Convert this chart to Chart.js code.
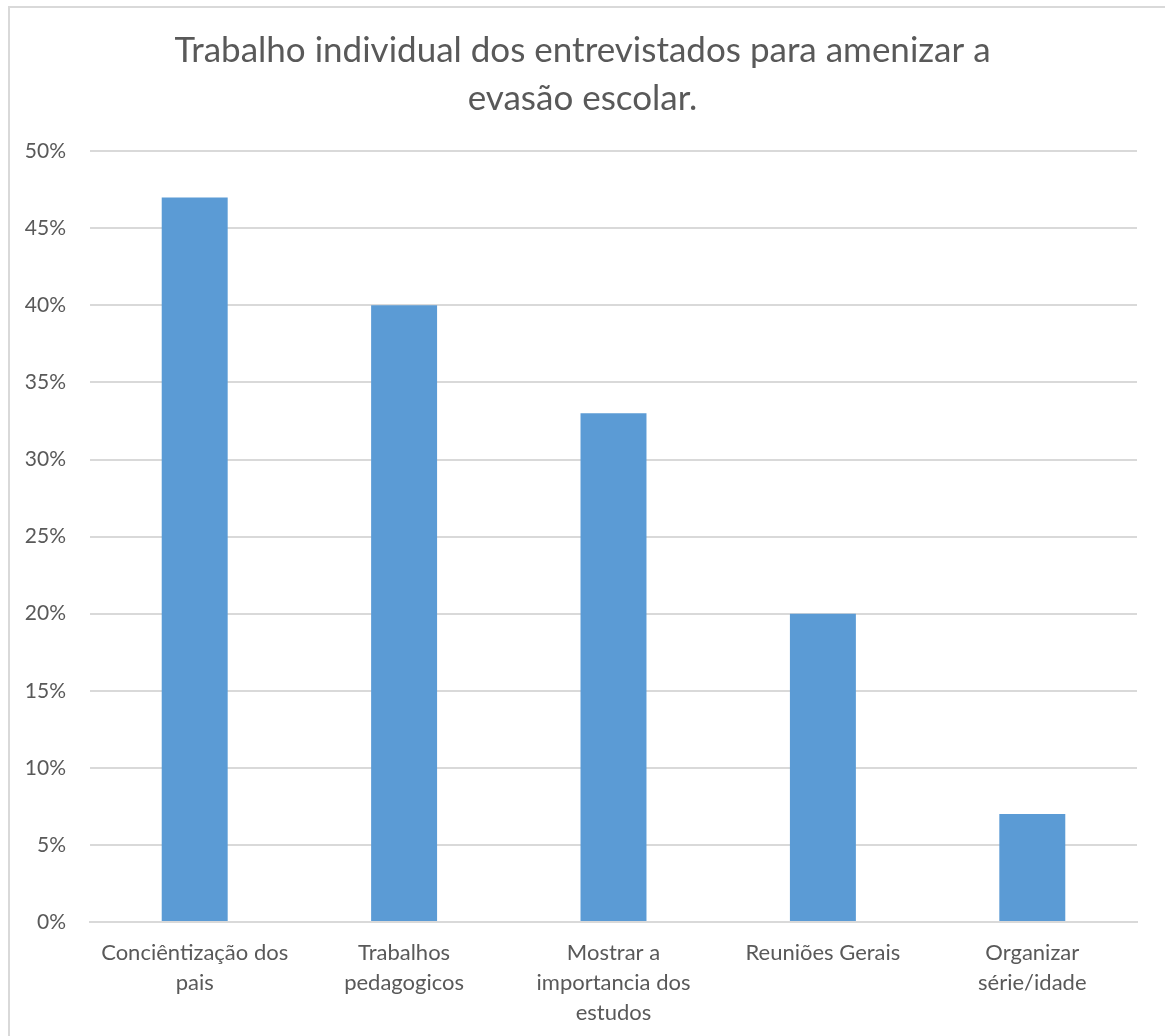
<!DOCTYPE html>
<html>
<head>
<meta charset="utf-8">
<script src="https://cdn.jsdelivr.net/npm/chart.js@4"></script>
<style>
  html, body { margin: 0; padding: 0; background: #fff; overflow: hidden; }
  #wrap { position: absolute; left: 0; top: 0; width: 1165px; height: 1036px; }
  #frame { position: absolute; left: 8px; top: 6px; width: 1200px; height: 1100px;
           border: 2px solid #d9d9d9; box-sizing: border-box; pointer-events: none; }
</style>
</head>
<body>
<div id="wrap"><canvas id="chart" width="1165" height="1036"></canvas></div>
<div id="frame"></div>
<script>
const titleLines = ['Trabalho individual dos entrevistados para amenizar a', 'evasão escolar.'];
const categories = [
    ['Conciêntização dos', 'pais'],
    ['Trabalhos', 'pedagogicos'],
    ['Mostrar a', 'importancia dos', 'estudos'],
    ['Reuniões Gerais'],
    ['Organizar', 'série/idade']
];
const percentages = [47, 40, 33, 20, 7];
const yTicks = [0, 5, 10, 15, 20, 25, 30, 35, 40, 45, 50];

const textColor = '#595959';
const gridColor = '#d9d9d9';

document.addEventListener('DOMContentLoaded', () => {
    const ctx = document.getElementById('chart').getContext('2d');

    new Chart(ctx, {
        type: 'bar',
        data: {
            labels: categories,
            datasets: [{
                data: percentages,
                backgroundColor: '#5b9bd5',
                borderWidth: 0,
                barPercentage: 0.315,
                categoryPercentage: 1
            }]
        },
        options: {
            responsive: false,
            animation: false,
            layout: { padding: 0 },
            plugins: {
                legend: { display: false },
                tooltip: { enabled: false },
                title: {
                    display: true,
                    text: titleLines,
                    color: textColor,
                    font: { family: 'Lato', size: 35, weight: 'normal', lineHeight: 1.36 },
                    padding: { top: 27, bottom: 29 }
                }
            },
            scales: {
                y: {
                    min: 0,
                    max: 50,
                    afterFit: scale => { scale.width = 90; },
                    afterBuildTicks: scale => { scale.ticks = yTicks.map(v => ({ value: v })); },
                    border: { display: false },
                    grid: { color: gridColor, lineWidth: 2, drawTicks: false },
                    ticks: {
                        color: textColor,
                        font: { family: 'Lato', size: 21 },
                        padding: 24,
                        callback: v => v + '%'
                    }
                },
                // empty right margin so the title stays centred on the page
                yRight: {
                    position: 'right',
                    afterFit: scale => { scale.width = 28; },
                    border: { display: false },
                    grid: { display: false, drawTicks: false },
                    ticks: { display: false }
                },
                x: {
                    afterFit: scale => { scale.height = 114; },
                    border: { color: gridColor, width: 2 },
                    grid: { display: false, drawTicks: false },
                    ticks: {
                        color: textColor,
                        font: { family: 'Lato', size: 22, lineHeight: 1.36 },
                        padding: 16,
                        maxRotation: 0,
                        autoSkip: false
                    }
                }
            }
        }
    });
});
</script>
</body>
</html>
